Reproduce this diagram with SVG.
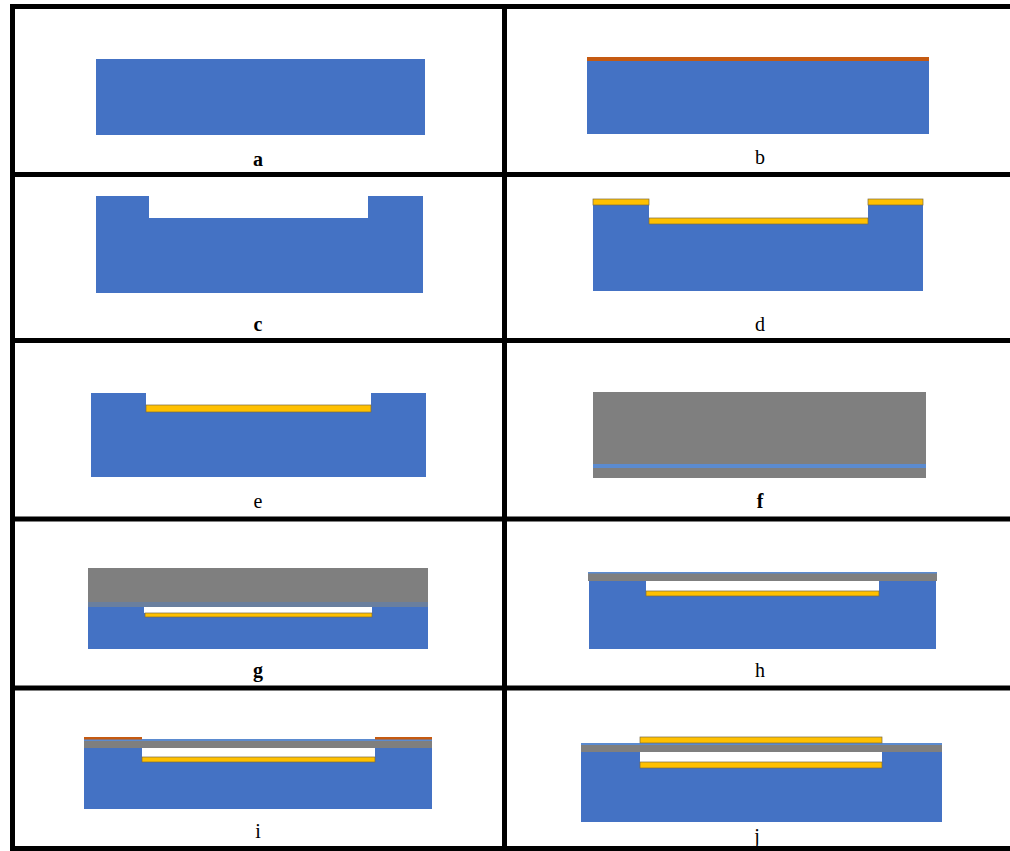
<svg xmlns="http://www.w3.org/2000/svg" width="1010" height="851" viewBox="0 0 1010 851">
  <style>
    .si { fill: #4472C4; }
    .au { fill: #FFC000; stroke: #7a6a40; stroke-width: 0.7; }
    .cu { fill: #C55A11; }
    .gl { fill: #7F7F7F; }
    .thin { fill: #5B8BD0; }
    .cav { fill: #FFFFFF; }
    .grid { stroke: #000; stroke-width: 5; fill: none; }
    .lbl { font-family: "Liberation Serif", "Times New Roman", serif; font-size: 20px; fill: #000; text-anchor: middle; }
    .bold { font-weight: bold; }
  </style>
  <rect width="1010" height="851" fill="#FFFFFF"/>

  <!-- table grid -->
  <g id="grid" class="grid">
    <line x1="10" y1="6.5" x2="1010" y2="6.5"/>
    <line x1="10" y1="174.5" x2="1010" y2="174.5"/>
    <line x1="10" y1="340.5" x2="1010" y2="340.5"/>
    <line x1="10" y1="519" x2="1010" y2="519"/>
    <line x1="10" y1="688" x2="1010" y2="688"/>
    <line x1="10" y1="848.5" x2="1010" y2="848.5"/>
    <line x1="12.5" y1="4" x2="12.5" y2="851"/>
    <line x1="504.5" y1="4" x2="504.5" y2="851"/>
  </g>

  <!-- a: bare substrate -->
  <g id="panel-a">
    <rect class="si" x="96" y="59" width="329" height="76"/>
    <text class="lbl bold" x="258" y="166">a</text>
  </g>

  <!-- b: substrate with top film -->
  <g id="panel-b">
    <rect class="si" x="587" y="61" width="342" height="73"/>
    <rect class="cu" x="587" y="57" width="342" height="4"/>
    <text class="lbl" x="760" y="164">b</text>
  </g>

  <!-- c: etched recess -->
  <g id="panel-c">
    <path class="si" d="M96,196 H149 V218 H368 V196 H423 V293 H96 Z"/>
    <text class="lbl bold" x="258" y="331">c</text>
  </g>

  <!-- d: metal deposited over recess -->
  <g id="panel-d">
    <path class="si" d="M593,205 H649 V224 H868 V205 H923 V291 H593 Z"/>
    <rect class="au" x="593" y="199" width="56" height="6"/>
    <rect class="au" x="649" y="218" width="219" height="6"/>
    <rect class="au" x="868" y="199" width="55" height="6"/>
    <text class="lbl" x="760" y="331">d</text>
  </g>

  <!-- e: metal left only in recess -->
  <g id="panel-e">
    <path class="si" d="M91,393 H146 V412 H371 V393 H426 V477 H91 Z"/>
    <rect class="au" x="146" y="405" width="225" height="7"/>
    <text class="lbl" x="258" y="508">e</text>
  </g>

  <!-- f: glass wafer with thin layer -->
  <g id="panel-f">
    <rect class="gl" x="593" y="392" width="333" height="86"/>
    <rect class="thin" x="593" y="464" width="333" height="4"/>
    <text class="lbl bold" x="760" y="508">f</text>
  </g>

  <!-- g: bonded stack -->
  <g id="panel-g">
    <rect class="si" x="88" y="606" width="340" height="43"/>
    <rect class="gl" x="88" y="568" width="340" height="36"/>
    <rect fill="#6A7F9E" x="88" y="602" width="340" height="5"/>
    <rect class="cav" x="144" y="607" width="228" height="6"/>
    <rect class="au" x="145" y="613" width="227" height="4"/>
    <text class="lbl bold" x="258" y="677">g</text>
  </g>

  <!-- h: thinned glass membrane -->
  <g id="panel-h">
    <rect class="si" x="589" y="580" width="347" height="69"/>
    <rect class="gl" x="588" y="573" width="349" height="8"/>
    <rect class="thin" x="588" y="572" width="349" height="1.5"/>
    <rect class="cav" x="646" y="581" width="233" height="10"/>
    <rect class="au" x="646" y="591" width="233" height="5"/>
    <text class="lbl" x="760" y="677">h</text>
  </g>

  <!-- i: top film pads -->
  <g id="panel-i">
    <rect class="si" x="84" y="747" width="348" height="62"/>
    <rect class="gl" x="84" y="741" width="348" height="7"/>
    <rect class="thin" x="84" y="739" width="348" height="2"/>
    <rect class="cu" x="84" y="737" width="58" height="2.5"/>
    <rect class="cu" x="375" y="737" width="57" height="2.5"/>
    <rect class="cav" x="142" y="748" width="233" height="9"/>
    <rect class="au" x="142" y="757" width="233" height="5"/>
    <text class="lbl" x="258" y="838">i</text>
  </g>

  <!-- j: top electrode over membrane -->
  <g id="panel-j">
    <rect class="si" x="581" y="751" width="361" height="71"/>
    <rect class="gl" x="581" y="745" width="361" height="7"/>
    <rect class="thin" x="581" y="743" width="361" height="2"/>
    <rect class="au" x="640" y="737" width="242" height="6"/>
    <rect class="cav" x="640" y="752" width="242" height="10"/>
    <rect class="au" x="640" y="762" width="242" height="6"/>
    <text class="lbl" x="757" y="843">j</text>
  </g>
</svg>
